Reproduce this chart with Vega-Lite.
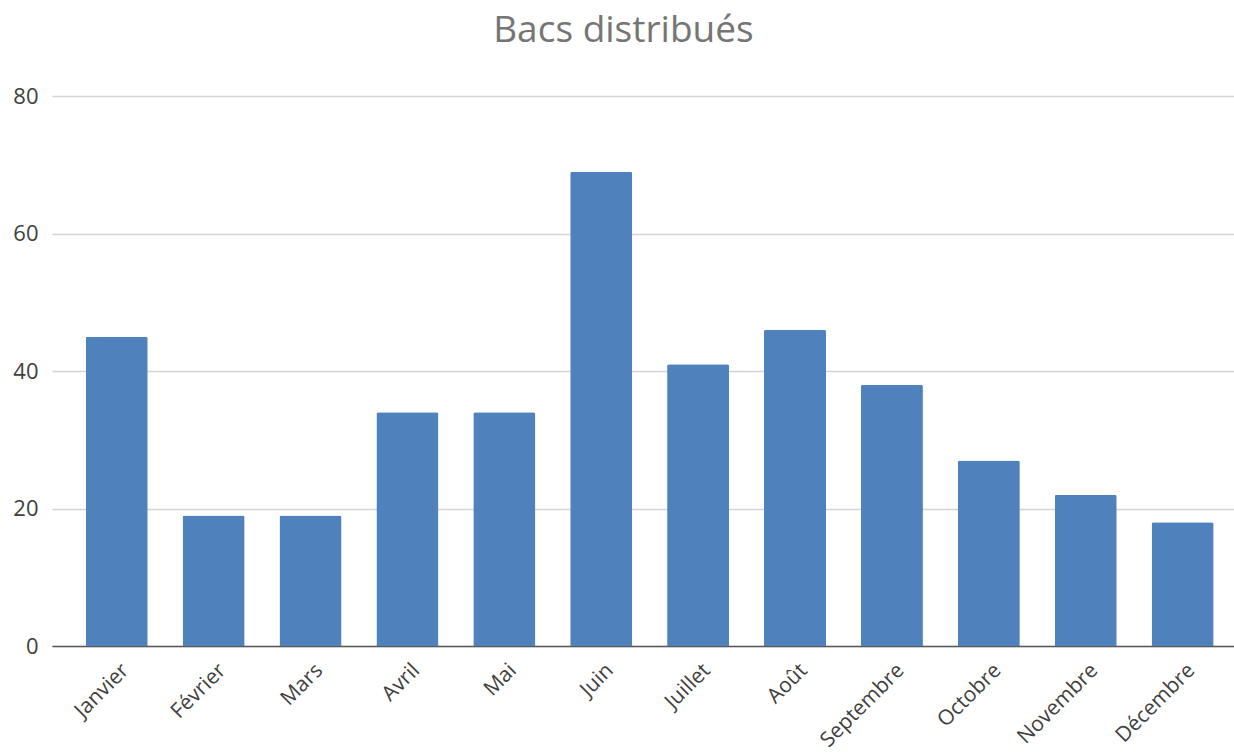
{
  "$schema": "https://vega.github.io/schema/vega-lite/v6.json",
  "autosize": "none",
  "width": 1182,
  "height": 550,
  "padding": {"left": 52, "top": 96, "right": 0, "bottom": 109},
  "background": "white",
  "title": {
    "text": "Bacs distribués",
    "font": "Open Sans",
    "fontSize": 37,
    "fontWeight": "normal",
    "color": "#757575",
    "anchor": "middle",
    "frame": "bounds",
    "baseline": "alphabetic",
    "offset": 6
  },
  "data": {
    "values": [
      {"mois": "Janvier", "bacs": 45},
      {"mois": "Février", "bacs": 19},
      {"mois": "Mars", "bacs": 19},
      {"mois": "Avril", "bacs": 34},
      {"mois": "Mai", "bacs": 34},
      {"mois": "Juin", "bacs": 69},
      {"mois": "Juillet", "bacs": 41},
      {"mois": "Août", "bacs": 46},
      {"mois": "Septembre", "bacs": 38},
      {"mois": "Octobre", "bacs": 27},
      {"mois": "Novembre", "bacs": 22},
      {"mois": "Décembre", "bacs": 18}
    ]
  },
  "mark": {"type": "bar", "color": "#4f81bd", "cornerRadiusTopLeft": 2, "cornerRadiusTopRight": 2},
  "encoding": {
    "x": {
      "field": "mois",
      "type": "nominal",
      "sort": null,
      "title": null,
      "scale": {"paddingInner": 0.36, "paddingOuter": 0.279, "align": 0.623},
      "axis": {
        "labelAngle": -45,
        "labelAlign": "right",
        "labelBaseline": "middle",
        "labelFont": "Open Sans",
        "labelFontSize": 21,
        "labelColor": "#404040",
        "labelPadding": 21,
        "labelOffset": 9,
        "ticks": false,
        "domainColor": "#595959",
        "domainWidth": 1.5,
        "grid": false
      }
    },
    "y": {
      "field": "bacs",
      "type": "quantitative",
      "title": null,
      "scale": {"domain": [0, 80], "nice": false},
      "axis": {
        "values": [0, 20, 40, 60, 80],
        "labelFont": "Open Sans",
        "labelFontSize": 22,
        "labelColor": "#404040",
        "labelPadding": 14,
        "ticks": false,
        "domain": false,
        "gridColor": "#d4d4d4",
        "gridWidth": 1.5
      }
    }
  },
  "config": {"view": {"stroke": null}}
}
